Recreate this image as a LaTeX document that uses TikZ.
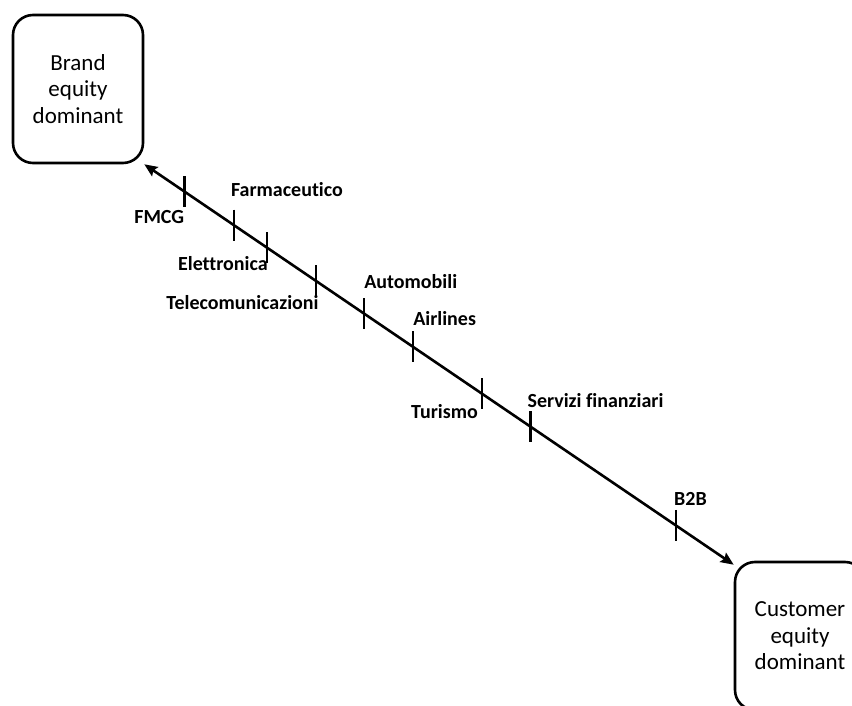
\documentclass[tikz,border=0pt]{standalone}
\usepackage{fontspec}
\setmainfont{Carlito}[Ligatures=CommonOff]
\usetikzlibrary{arrows.meta, positioning}

\tikzset{
  equitybox/.style={draw, line width=2.6pt, rounded corners=20pt, minimum width=130pt, minimum height=148pt, align=center, inner sep=0pt, font=\fontsize{23}{26.5}\selectfont},
  axisline/.style={line width=2.6pt, {Stealth[length=13pt, width=11pt, inset=2pt]}-{Stealth[length=13pt, width=11pt, inset=2pt]}},
  sectortick/.style={line width=2.6pt},
  sectorlabel/.style={inner sep=0pt, font=\fontsize{20}{24}\selectfont\bfseries},
}

\begin{document}
\begin{tikzpicture}[x=1pt, y=-1pt]
  \useasboundingbox (0,0) rectangle (852,706);

  \node[equitybox] (brand) at (78,89) {Brand\\equity\\dominant};
  \node[equitybox] (customer) at (800,636) {Customer\\equity\\dominant};

  \draw[axisline] (brand.south east) --
    coordinate[pos=0.068] (fmcg)
    coordinate[pos=0.152] (farm)
    coordinate[pos=0.208] (elet)
    coordinate[pos=0.291] (tele)
    coordinate[pos=0.373] (auto)
    coordinate[pos=0.456] (air)
    coordinate[pos=0.573] (tur)
    coordinate[pos=0.655] (serv)
    coordinate[pos=0.902] (btob)
    ([yshift=-4pt]customer.north west);

  \draw[sectortick] (fmcg) ++(0,-15.5) -- ++(0,31);
  \draw[sectortick] (farm) ++(0,-15.5) -- ++(0,31);
  \draw[sectortick] (elet) ++(0,-15.5) -- ++(0,31);
  \draw[sectortick] (tele) ++(0,-15.5) -- ++(0,31);
  \draw[sectortick] (auto) ++(0,-15.5) -- ++(0,31);
  \draw[sectortick] (air) ++(0,-15.5) -- ++(0,31);
  \draw[sectortick] (tur) ++(0,-15.5) -- ++(0,31);
  \draw[sectortick] (serv) ++(0,-15.5) -- ++(0,31);
  \draw[sectortick] (btob) ++(0,-15.5) -- ++(0,31);

  \node[sectorlabel, anchor=base east] (fmcglbl) at ([yshift=-32pt]fmcg) {FMCG};
  \node[sectorlabel, anchor=base west] (farmlbl) at ([xshift=-3pt, yshift=29pt]farm) {Farmaceutico};
  \node[sectorlabel, anchor=base east] (eletlbl) at ([xshift=1pt, yshift=-23pt]elet) {Elettronica};
  \node[sectorlabel, anchor=base east] (telelbl) at ([xshift=3pt, yshift=-29pt]tele) {Telecomunicazioni};
  \node[sectorlabel, anchor=base west] (autolbl) at ([yshift=25.5pt]auto) {Automobili};
  \node[sectorlabel, anchor=base west] (airlbl) at ([yshift=21pt]air) {Airlines};
  \node[sectorlabel, anchor=base east] (turlbl) at ([xshift=-4pt, yshift=-25pt]tur) {Turismo};
  \node[sectorlabel, anchor=base west] (servlbl) at ([xshift=-3pt, yshift=19pt]serv) {Servizi finanziari};
  \node[sectorlabel, anchor=base west] (btoblbl) at ([xshift=-2pt, yshift=20pt]btob) {B2B};
\end{tikzpicture}
\end{document}
